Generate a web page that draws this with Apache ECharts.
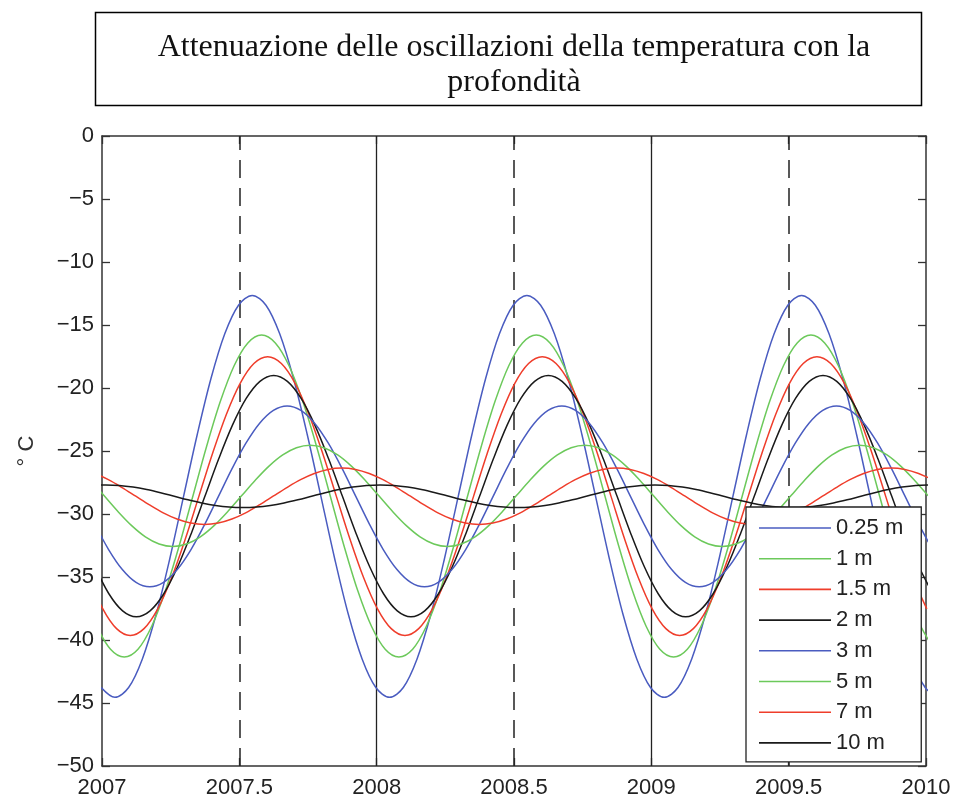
<!DOCTYPE html>
<html>
<head>
<meta charset="utf-8">
<script src="https://cdn.jsdelivr.net/npm/echarts@6/dist/echarts.min.js"></script>
<style>
html,body{margin:0;padding:0;background:#fff;}
#chart{width:955px;height:799px;}
</style>
</head>
<body>
<div id="chart"></div>
<script>
// ---- data ----
const titleText = 'Attenuazione delle oscillazioni della temperatura con la\nprofondità';
const yAxisName = '° C';
const seriesNames = ['0.25 m', '1 m', '1.5 m', '2 m', '3 m', '5 m', '7 m', '10 m'];
const xTicks = [2007, 2007.5, 2008, 2008.5, 2009, 2009.5, 2010];
const yTicks = [-50, -45, -40, -35, -30, -25, -20, -15, -10, -5, 0];
const dashedLines = [2007.5, 2008.5, 2009.5];
const solidLines = [2008, 2009];

// sample times (years) and temperatures (°C) for each depth
const x025 = [
  2006.997, 2007.047, 2007.097, 2007.147, 2007.197, 2007.247, 2007.297, 2007.347, 2007.397, 2007.447,
  2007.497, 2007.547, 2007.597, 2007.647, 2007.697, 2007.747, 2007.797, 2007.847, 2007.897, 2007.947,
  2007.997, 2008.047, 2008.097, 2008.147, 2008.197, 2008.247, 2008.297, 2008.347, 2008.397, 2008.447,
  2008.497, 2008.547, 2008.597, 2008.647, 2008.697, 2008.747, 2008.797, 2008.847, 2008.897, 2008.947,
  2008.997, 2009.047, 2009.097, 2009.147, 2009.197, 2009.247, 2009.297, 2009.347, 2009.397, 2009.447,
  2009.497, 2009.547, 2009.597, 2009.647, 2009.697, 2009.747, 2009.797, 2009.847, 2009.897, 2009.947,
  2009.997, 2010.047
];
const t025 = [
  -43.77, -44.55, -43.77, -41.50, -37.98, -33.53, -28.60, -23.67, -19.23, -15.70,
  -13.43, -12.65, -13.43, -15.70, -19.23, -23.67, -28.60, -33.53, -37.98, -41.50,
  -43.77, -44.55, -43.77, -41.50, -37.98, -33.53, -28.60, -23.67, -19.23, -15.70,
  -13.43, -12.65, -13.43, -15.70, -19.23, -23.67, -28.60, -33.53, -37.98, -41.50,
  -43.77, -44.55, -43.77, -41.50, -37.98, -33.53, -28.60, -23.67, -19.23, -15.70,
  -13.43, -12.65, -13.43, -15.70, -19.23, -23.67, -28.60, -33.53, -37.98, -41.50,
  -43.77, -44.55
];

const x1 = [
  2006.981, 2007.031, 2007.081, 2007.131, 2007.181, 2007.231, 2007.281, 2007.331, 2007.381, 2007.431,
  2007.481, 2007.531, 2007.581, 2007.631, 2007.681, 2007.731, 2007.781, 2007.831, 2007.881, 2007.931,
  2007.981, 2008.031, 2008.081, 2008.131, 2008.181, 2008.231, 2008.281, 2008.331, 2008.381, 2008.431,
  2008.481, 2008.531, 2008.581, 2008.631, 2008.681, 2008.731, 2008.781, 2008.831, 2008.881, 2008.931,
  2008.981, 2009.031, 2009.081, 2009.131, 2009.181, 2009.231, 2009.281, 2009.331, 2009.381, 2009.431,
  2009.481, 2009.531, 2009.581, 2009.631, 2009.681, 2009.731, 2009.781, 2009.831, 2009.881, 2009.931,
  2009.981, 2010.031
];
const t1 = [
  -38.91, -40.73, -41.35, -40.73, -38.91, -36.08, -32.52, -28.57, -24.62, -21.06,
  -18.23, -16.42, -15.79, -16.42, -18.23, -21.06, -24.62, -28.57, -32.52, -36.08,
  -38.91, -40.73, -41.35, -40.73, -38.91, -36.08, -32.52, -28.57, -24.62, -21.06,
  -18.23, -16.42, -15.79, -16.42, -18.23, -21.06, -24.62, -28.57, -32.52, -36.08,
  -38.91, -40.73, -41.35, -40.73, -38.91, -36.08, -32.52, -28.57, -24.62, -21.06,
  -18.23, -16.42, -15.79, -16.42, -18.23, -21.06, -24.62, -28.57, -32.52, -36.08,
  -38.91, -40.73
];

const x15 = [
  2006.953, 2007.003, 2007.053, 2007.103, 2007.153, 2007.203, 2007.253, 2007.303, 2007.353, 2007.403,
  2007.453, 2007.503, 2007.553, 2007.603, 2007.653, 2007.703, 2007.753, 2007.803, 2007.853, 2007.903,
  2007.953, 2008.003, 2008.053, 2008.103, 2008.153, 2008.203, 2008.253, 2008.303, 2008.353, 2008.403,
  2008.453, 2008.503, 2008.553, 2008.603, 2008.653, 2008.703, 2008.753, 2008.803, 2008.853, 2008.903,
  2008.953, 2009.003, 2009.053, 2009.103, 2009.153, 2009.203, 2009.253, 2009.303, 2009.353, 2009.403,
  2009.453, 2009.503, 2009.553, 2009.603, 2009.653, 2009.703, 2009.753, 2009.803, 2009.853, 2009.903,
  2009.953, 2010.003
];
const t15 = [
  -35.08, -37.53, -39.10, -39.64, -39.10, -37.53, -35.08, -32.00, -28.58, -25.16,
  -22.08, -19.63, -18.06, -17.52, -18.06, -19.63, -22.08, -25.16, -28.58, -32.00,
  -35.08, -37.53, -39.10, -39.64, -39.10, -37.53, -35.08, -32.00, -28.58, -25.16,
  -22.08, -19.63, -18.06, -17.52, -18.06, -19.63, -22.08, -25.16, -28.58, -32.00,
  -35.08, -37.53, -39.10, -39.64, -39.10, -37.53, -35.08, -32.00, -28.58, -25.16,
  -22.08, -19.63, -18.06, -17.52, -18.06, -19.63, -22.08, -25.16, -28.58, -32.00,
  -35.08, -37.53
];

const x2 = [
  2006.975, 2007.025, 2007.075, 2007.125, 2007.175, 2007.225, 2007.275, 2007.325, 2007.375, 2007.425,
  2007.475, 2007.525, 2007.575, 2007.625, 2007.675, 2007.725, 2007.775, 2007.825, 2007.875, 2007.925,
  2007.975, 2008.025, 2008.075, 2008.125, 2008.175, 2008.225, 2008.275, 2008.325, 2008.375, 2008.425,
  2008.475, 2008.525, 2008.575, 2008.625, 2008.675, 2008.725, 2008.775, 2008.825, 2008.875, 2008.925,
  2008.975, 2009.025, 2009.075, 2009.125, 2009.175, 2009.225, 2009.275, 2009.325, 2009.375, 2009.425,
  2009.475, 2009.525, 2009.575, 2009.625, 2009.675, 2009.725, 2009.775, 2009.825, 2009.875, 2009.925,
  2009.975, 2010.025
];
const t2 = [
  -34.21, -36.33, -37.69, -38.16, -37.69, -36.33, -34.21, -31.54, -28.58, -25.62,
  -22.95, -20.83, -19.47, -19.00, -19.47, -20.83, -22.95, -25.62, -28.58, -31.54,
  -34.21, -36.33, -37.69, -38.16, -37.69, -36.33, -34.21, -31.54, -28.58, -25.62,
  -22.95, -20.83, -19.47, -19.00, -19.47, -20.83, -22.95, -25.62, -28.58, -31.54,
  -34.21, -36.33, -37.69, -38.16, -37.69, -36.33, -34.21, -31.54, -28.58, -25.62,
  -22.95, -20.83, -19.47, -19.00, -19.47, -20.83, -22.95, -25.62, -28.58, -31.54,
  -34.21, -36.33
];

const x3 = [
  2006.974, 2007.024, 2007.074, 2007.124, 2007.174, 2007.224, 2007.274, 2007.324, 2007.374, 2007.424,
  2007.474, 2007.524, 2007.574, 2007.624, 2007.674, 2007.724, 2007.774, 2007.824, 2007.874, 2007.924,
  2007.974, 2008.024, 2008.074, 2008.124, 2008.174, 2008.224, 2008.274, 2008.324, 2008.374, 2008.424,
  2008.474, 2008.524, 2008.574, 2008.624, 2008.674, 2008.724, 2008.774, 2008.824, 2008.874, 2008.924,
  2008.974, 2009.024, 2009.074, 2009.124, 2009.174, 2009.224, 2009.274, 2009.324, 2009.374, 2009.424,
  2009.474, 2009.524, 2009.574, 2009.624, 2009.674, 2009.724, 2009.774, 2009.824, 2009.874, 2009.924,
  2009.974, 2010.024
];
const t3 = [
  -30.82, -32.82, -34.41, -35.43, -35.78, -35.43, -34.41, -32.82, -30.82, -28.60,
  -26.38, -24.38, -22.79, -21.77, -21.42, -21.77, -22.79, -24.38, -26.38, -28.60,
  -30.82, -32.82, -34.41, -35.43, -35.78, -35.43, -34.41, -32.82, -30.82, -28.60,
  -26.38, -24.38, -22.79, -21.77, -21.42, -21.77, -22.79, -24.38, -26.38, -28.60,
  -30.82, -32.82, -34.41, -35.43, -35.78, -35.43, -34.41, -32.82, -30.82, -28.60,
  -26.38, -24.38, -22.79, -21.77, -21.42, -21.77, -22.79, -24.38, -26.38, -28.60,
  -30.82, -32.82
];

const x5 = [
  2006.958, 2007.008, 2007.058, 2007.108, 2007.158, 2007.208, 2007.258, 2007.308, 2007.358, 2007.408,
  2007.458, 2007.508, 2007.558, 2007.608, 2007.658, 2007.708, 2007.758, 2007.808, 2007.858, 2007.908,
  2007.958, 2008.008, 2008.058, 2008.108, 2008.158, 2008.208, 2008.258, 2008.308, 2008.358, 2008.408,
  2008.458, 2008.508, 2008.558, 2008.608, 2008.658, 2008.708, 2008.758, 2008.808, 2008.858, 2008.908,
  2008.958, 2009.008, 2009.058, 2009.108, 2009.158, 2009.208, 2009.258, 2009.308, 2009.358, 2009.408,
  2009.458, 2009.508, 2009.558, 2009.608, 2009.658, 2009.708, 2009.758, 2009.808, 2009.858, 2009.908,
  2009.958, 2010.008
];
const t5 = [
  -27.32, -28.56, -29.80, -30.92, -31.81, -32.38, -32.58, -32.38, -31.81, -30.92,
  -29.80, -28.56, -27.32, -26.20, -25.31, -24.74, -24.54, -24.74, -25.31, -26.20,
  -27.32, -28.56, -29.80, -30.92, -31.81, -32.38, -32.58, -32.38, -31.81, -30.92,
  -29.80, -28.56, -27.32, -26.20, -25.31, -24.74, -24.54, -24.74, -25.31, -26.20,
  -27.32, -28.56, -29.80, -30.92, -31.81, -32.38, -32.58, -32.38, -31.81, -30.92,
  -29.80, -28.56, -27.32, -26.20, -25.31, -24.74, -24.54, -24.74, -25.31, -26.20,
  -27.32, -28.56
];

const x7 = [
  2006.973, 2007.023, 2007.073, 2007.123, 2007.173, 2007.223, 2007.273, 2007.323, 2007.373, 2007.423,
  2007.473, 2007.523, 2007.573, 2007.623, 2007.673, 2007.723, 2007.773, 2007.823, 2007.873, 2007.923,
  2007.973, 2008.023, 2008.073, 2008.123, 2008.173, 2008.223, 2008.273, 2008.323, 2008.373, 2008.423,
  2008.473, 2008.523, 2008.573, 2008.623, 2008.673, 2008.723, 2008.773, 2008.823, 2008.873, 2008.923,
  2008.973, 2009.023, 2009.073, 2009.123, 2009.173, 2009.223, 2009.273, 2009.323, 2009.373, 2009.423,
  2009.473, 2009.523, 2009.573, 2009.623, 2009.673, 2009.723, 2009.773, 2009.823, 2009.873, 2009.923,
  2009.973, 2010.023
];
const t7 = [
  -26.78, -27.27, -27.90, -28.59, -29.28, -29.91, -30.40, -30.72, -30.83, -30.72,
  -30.40, -29.91, -29.28, -28.59, -27.90, -27.27, -26.78, -26.46, -26.35, -26.46,
  -26.78, -27.27, -27.90, -28.59, -29.28, -29.91, -30.40, -30.72, -30.83, -30.72,
  -30.40, -29.91, -29.28, -28.59, -27.90, -27.27, -26.78, -26.46, -26.35, -26.46,
  -26.78, -27.27, -27.90, -28.59, -29.28, -29.91, -30.40, -30.72, -30.83, -30.72,
  -30.40, -29.91, -29.28, -28.59, -27.90, -27.27, -26.78, -26.46, -26.35, -26.46,
  -26.78, -27.27
];

const x10 = [
  2006.963, 2007.013, 2007.063, 2007.113, 2007.163, 2007.213, 2007.263, 2007.313, 2007.363, 2007.413,
  2007.463, 2007.513, 2007.563, 2007.613, 2007.663, 2007.713, 2007.763, 2007.813, 2007.863, 2007.913,
  2007.963, 2008.013, 2008.063, 2008.113, 2008.163, 2008.213, 2008.263, 2008.313, 2008.363, 2008.413,
  2008.463, 2008.513, 2008.563, 2008.613, 2008.663, 2008.713, 2008.763, 2008.813, 2008.863, 2008.913,
  2008.963, 2009.013, 2009.063, 2009.113, 2009.163, 2009.213, 2009.263, 2009.313, 2009.363, 2009.413,
  2009.463, 2009.513, 2009.563, 2009.613, 2009.663, 2009.713, 2009.763, 2009.813, 2009.863, 2009.913,
  2009.963, 2010.013
];
const t10 = [
  -27.73, -27.69, -27.73, -27.86, -28.06, -28.31, -28.59, -28.87, -29.12, -29.32,
  -29.45, -29.49, -29.45, -29.32, -29.12, -28.87, -28.59, -28.31, -28.06, -27.86,
  -27.73, -27.69, -27.73, -27.86, -28.06, -28.31, -28.59, -28.87, -29.12, -29.32,
  -29.45, -29.49, -29.45, -29.32, -29.12, -28.87, -28.59, -28.31, -28.06, -27.86,
  -27.73, -27.69, -27.73, -27.86, -28.06, -28.31, -28.59, -28.87, -29.12, -29.32,
  -29.45, -29.49, -29.45, -29.32, -29.12, -28.87, -28.59, -28.31, -28.06, -27.86,
  -27.73, -27.69
];

const seriesX = [x025, x1, x15, x2, x3, x5, x7, x10];
const seriesY = [t025, t1, t15, t2, t3, t5, t7, t10];

// ---- styles ----
const BLUE = '#4a5cc0', GREEN = '#6cc95b', RED = '#ef3d2b', BLACK = '#1a1a1a';
const colors = [BLUE, GREEN, RED, BLACK, BLUE, GREEN, RED, BLACK];
const AXIS = '#333333';
const SANS = '"Liberation Sans", Arial, Helvetica, sans-serif';

function fmtY(v) { return v < 0 ? '\u2212' + Math.abs(v) : String(v); }
function fmtX(v) { return String(v); }

const markData = [];
dashedLines.forEach(v => markData.push({ xAxis: v, lineStyle: { type: [18, 10], color: '#222', width: 1.5 } }));
solidLines.forEach(v => markData.push({ xAxis: v, lineStyle: { type: 'solid', color: '#222', width: 1.3 } }));

const series = seriesNames.map((name, i) => ({
  name: name,
  type: 'line',
  xAxisIndex: 0,
  yAxisIndex: 0,
  data: seriesX[i].map((x, j) => [x, seriesY[i][j]]),
  showSymbol: false,
  symbol: 'none',
  smooth: 0.33,
  clip: true,
  lineStyle: { color: colors[i], width: 1.5 },
  itemStyle: { color: colors[i] },
  emphasis: { disabled: true },
  z: 3
}));
series[0].markLine = {
  silent: true,
  symbol: ['none', 'none'],
  label: { show: false },
  z: 2,
  data: markData
};

const baseAxis = {
  type: 'value',
  axisLine: { show: true, onZero: false, lineStyle: { color: AXIS, width: 1.5 } },
  axisTick: { show: true, inside: true, length: 8, lineStyle: { color: AXIS, width: 1.3 } },
  splitLine: { show: false },
  minorTick: { show: false }
};

const option = {
  animation: false,
  backgroundColor: '#ffffff',
  title: {
    text: titleText,
    left: 509,
    top: 25,
    textAlign: 'center',
    textStyle: {
      fontFamily: '"Liberation Serif", "DejaVu Serif", serif',
      fontWeight: 'normal',
      fontSize: 32,
      lineHeight: 35,
      color: '#111'
    }
  },
  graphic: [{
    type: 'rect',
    shape: { x: 95.5, y: 12.5, width: 826, height: 93 },
    style: { fill: 'none', stroke: '#000', lineWidth: 1.5 },
    silent: true,
    z: 0
  }],
  grid: { left: 102, top: 136, right: 29, bottom: 31, containLabel: false },
  legend: {
    orient: 'vertical',
    left: 746,
    top: 507,
    data: seriesNames,
    icon: 'rect',
    itemWidth: 72,
    itemHeight: 1.6,
    itemGap: 8.7,
    padding: [10, 18, 8, 13],
    backgroundColor: '#ffffff',
    borderColor: '#222',
    borderWidth: 1.3,
    borderRadius: 0,
    selectedMode: false,
    textStyle: { fontFamily: SANS, fontSize: 22, color: '#222', lineHeight: 21 },
    z: 10
  },
  xAxis: [
    Object.assign({}, baseAxis, {
      min: xTicks[0], max: xTicks[xTicks.length - 1], interval: 0.5,
      position: 'bottom',
      axisLabel: { show: true, margin: 11, fontFamily: SANS, fontSize: 22, color: '#222', formatter: fmtX }
    }),
    Object.assign({}, baseAxis, {
      min: xTicks[0], max: xTicks[xTicks.length - 1], interval: 0.5,
      position: 'top',
      axisLabel: { show: false }
    })
  ],
  yAxis: [
    Object.assign({}, baseAxis, {
      min: yTicks[0], max: yTicks[yTicks.length - 1], interval: 5,
      position: 'left',
      name: yAxisName,
      nameLocation: 'middle',
      nameGap: 64,
      nameRotate: 90,
      nameTextStyle: { fontFamily: SANS, fontSize: 22, color: '#333' },
      axisLabel: { show: true, margin: 8, fontFamily: SANS, fontSize: 22, color: '#222', formatter: fmtY }
    }),
    Object.assign({}, baseAxis, {
      min: yTicks[0], max: yTicks[yTicks.length - 1], interval: 5,
      position: 'right',
      axisLabel: { show: false }
    })
  ],
  series: series
};

const chart = echarts.init(document.getElementById('chart'), null, { renderer: 'canvas' });
chart.setOption(option);
</script>
</body>
</html>
